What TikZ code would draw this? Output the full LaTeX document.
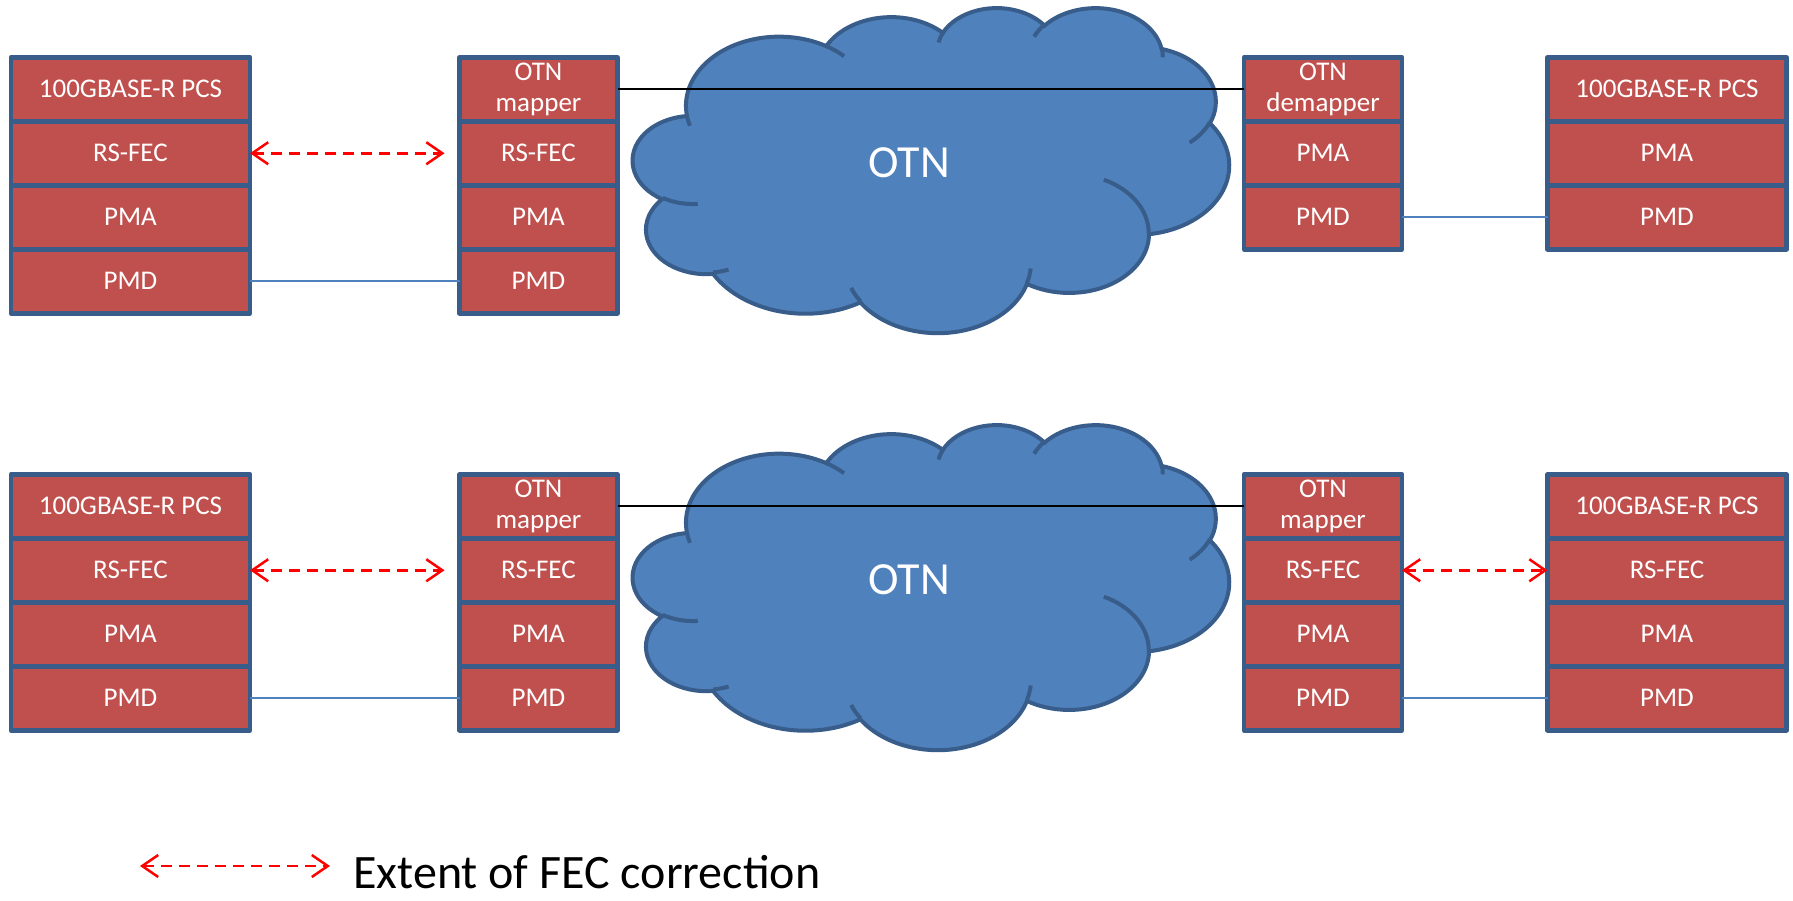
\documentclass[tikz,border=0pt]{standalone}
\usepackage{fontspec}
\setmainfont{Carlito}
\usetikzlibrary{positioning,arrows.meta}

\definecolor{layerred}{HTML}{C0504D}
\definecolor{edgeblue}{HTML}{385D8A}
\definecolor{cloudblue}{HTML}{4F81BD}

\tikzset{
	stackrow/.style={draw=edgeblue, fill=layerred, line width=4.5pt, line join=round,
		minimum height=64pt, outer sep=0pt, inner sep=0pt, text=white, align=center,
		font=\fontsize{27}{31}\selectfont},
	hoststack/.style={stackrow, minimum width=239pt},
	mapstack/.style={stackrow, minimum width=158pt},
	fec/.style={red, line width=2.5pt, dash pattern=on 11pt off 7pt,
		{Straight Barb[length=16pt,width=22pt]}-{Straight Barb[length=16pt,width=22pt]}},
	pmdlink/.style={cloudblue, line width=2pt},
	otnlink/.style={black, line width=2pt},
	otncloud/.style={fill=cloudblue, draw=edgeblue, line width=4pt},
	otncrease/.style={draw=edgeblue, line width=4pt},
	otnlabel/.style={text=white, font=\fontsize{46}{50}\selectfont},
	keytext/.style={inner sep=0pt, font=\fontsize{48}{52}\selectfont},
	cloudarc/.style n args={4}{/utils/exec={%
		\pgfmathsetmacro\cldS{atan2(sin(#3)*#1,cos(#3)*#2)}%
		\pgfmathsetmacro\cldE{atan2(sin(#3+#4)*#1,cos(#3+#4)*#2)}%
		\pgfmathsetmacro\cldD{\cldE-\cldS}%
		\pgfmathsetmacro\cldD{\cldD-360*round((\cldD-#4)/360)}},
		start angle=\cldS, delta angle=\cldD, x radius=#1, y radius=#2},
}

\begin{document}
\begin{tikzpicture}[x=1pt,y=-1pt]
	\path[fill=white, use as bounding box] (0,0) rectangle (1793,900);

	\foreach \dy in {0,417}{
		\begin{scope}[shift={(633,7+\dy)}, x=1.3796pt, y=-0.7523pt]
			\filldraw[otncloud] (39,143.7)
				arc[cloudarc={67.53}{91.90}{-190.4875}{123.7805}]
				arc[cloudarc={53.33}{72.67}{-144.1024}{89.9452}]
				arc[cloudarc={43.65}{59.45}{-145.8079}{99.7230}]
				arc[cloudarc={48.57}{65.95}{-130.9861}{117.2417}]
				arc[cloudarc={53.33}{72.73}{-78.7089}{109.0269}]
				arc[cloudarc={67.75}{92.20}{-46.2673}{130.2690}]
				arc[cloudarc={57.85}{78.67}{0.6250}{114.0333}]
				arc[cloudarc={67.52}{92.15}{22.4516}{115.1726}]
				arc[cloudarc={77.20}{105.43}{66.2426}{75.7110}]
				arc[cloudarc={43.60}{59.18}{-274.9421}{146.7356}]
				arc[cloudarc={43.45}{59.45}{-246.8285}{152.5189}] -- cycle;
			\draw[otncrease]
				(46.93,261.77) arc[cloudarc={43.45}{59.45}{86.742}{26.4295}]
				(69.28,348.99) arc[cloudarc={43.60}{59.18}{73.6105}{11.4475}]
				(164.78,390.90) arc[cloudarc={67.52}{92.15}{137.6242}{14.0811}]
				(288.27,347.51) arc[cloudarc={67.52}{92.15}{6.4533}{15.9984}]
				(341.29,229.54) arc[cloudarc={57.85}{78.67}{-70.2924}{70.9174}]
				(417.98,153.54) arc[cloudarc={53.33}{72.73}{30.3180}{27.7515}]
				(383.24,54.26) arc[cloudarc={48.57}{65.95}{-13.7443}{14.8589}]
				(290.78,39.52) arc[cloudarc={48.57}{65.95}{-149.1815}{18.1954}]
				(221.41,47.20) arc[cloudarc={43.65}{59.45}{-163.4943}{17.6864}]
				(140.00,51.92) arc[cloudarc={67.53}{91.90}{-66.7070}{12.3194}]
				(41.27,157.89) arc[cloudarc={67.53}{91.90}{157.6544}{11.8582}];
		\end{scope}
	}
	\node[otnlabel] (otn1) at (909,163) {OTN};
	\node[otnlabel] (otn2) at (909,580) {OTN};

	\node[hoststack] (ta1) at (130.5,89.25) {100GBASE-R PCS};
	\node[hoststack, below=0pt of ta1] (ta2) {RS-FEC};
	\node[hoststack, below=0pt of ta2] (ta3) {PMA};
	\node[hoststack, below=0pt of ta3] (ta4) {PMD};

	\node[mapstack] (tb1) at (538.5,89.25) {OTN\\mapper};
	\node[mapstack, below=0pt of tb1] (tb2) {RS-FEC};
	\node[mapstack, below=0pt of tb2] (tb3) {PMA};
	\node[mapstack, below=0pt of tb3] (tb4) {PMD};

	\node[mapstack] (tc1) at (1323,89.25) {OTN\\demapper};
	\node[mapstack, below=0pt of tc1] (tc2) {PMA};
	\node[mapstack, below=0pt of tc2] (tc3) {PMD};

	\node[hoststack] (td1) at (1667,89.25) {100GBASE-R PCS};
	\node[hoststack, below=0pt of td1] (td2) {PMA};
	\node[hoststack, below=0pt of td2] (td3) {PMD};

	\node[hoststack] (ba1) at (130.5,506.25) {100GBASE-R PCS};
	\node[hoststack, below=0pt of ba1] (ba2) {RS-FEC};
	\node[hoststack, below=0pt of ba2] (ba3) {PMA};
	\node[hoststack, below=0pt of ba3] (ba4) {PMD};

	\node[mapstack] (bb1) at (538.5,506.25) {OTN\\mapper};
	\node[mapstack, below=0pt of bb1] (bb2) {RS-FEC};
	\node[mapstack, below=0pt of bb2] (bb3) {PMA};
	\node[mapstack, below=0pt of bb3] (bb4) {PMD};

	\node[mapstack] (bc1) at (1323,506.25) {OTN\\mapper};
	\node[mapstack, below=0pt of bc1] (bc2) {RS-FEC};
	\node[mapstack, below=0pt of bc2] (bc3) {PMA};
	\node[mapstack, below=0pt of bc3] (bc4) {PMD};

	\node[hoststack] (bd1) at (1667,506.25) {100GBASE-R PCS};
	\node[hoststack, below=0pt of bd1] (bd2) {RS-FEC};
	\node[hoststack, below=0pt of bd2] (bd3) {PMA};
	\node[hoststack, below=0pt of bd3] (bd4) {PMD};

	\draw[otnlink] (tb1) -- (tc1);
	\draw[otnlink] (bb1) -- (bc1);
	\draw[pmdlink] (ta4) -- (tb4);
	\draw[pmdlink] (tc3) -- (td3);
	\draw[pmdlink] (ba4) -- (bb4);
	\draw[pmdlink] (bc4) -- (bd4);
	\draw[fec, shorten >=15pt] (ta2) -- (tb2);
	\draw[fec, shorten >=15pt] (ba2) -- (bb2);
	\draw[fec] (bc2) -- (bd2);

	\coordinate (keyl) at (140,866);
	\coordinate (keyr) at (330,866);
	\draw[fec] (keyl) -- (keyr);
	\node[keytext, anchor=base west] (key) at (353,888) {Extent of FEC correction};
\end{tikzpicture}
\end{document}
